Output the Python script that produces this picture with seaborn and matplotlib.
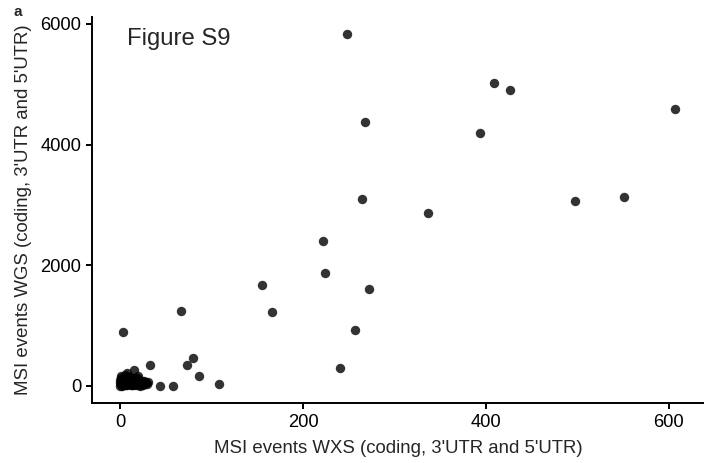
import numpy as np
import pandas as pd
import matplotlib
matplotlib.use("Agg")
import matplotlib.pyplot as plt
import seaborn as sns

# MSI events: WXS (x) vs WGS (y)
wxs_high = [248, 409, 426, 607, 394, 268, 337, 497, 551, 265, 222, 224, 155, 166, 272,
            257, 240, 67, 33, 80, 73, 86, 108, 44, 58, 3]
wgs_high = [5832, 5020, 4909, 4589, 4184, 4366, 2864, 3068, 3123, 3090, 2400, 1870, 1675, 1216, 1600,
            930, 300, 1244, 343, 464, 348, 160, 22, 0, 0, 895]

wxs_low = [15, 8, 1, 0, 1, 2, 3, 4, 5, 6, 7, 8, 9, 10, 11, 12, 13, 14, 16, 18, 20, 22, 24, 26, 28, 30,
           0, 1, 2, 3, 5, 6, 8, 10, 12, 14, 15, 17, 19, 21, 23, 25, 27, 29,
           0, 2, 4, 6, 9, 11, 13, 16, 18, 20, 22, 25, 3, 7, 12, 17, 21, 5, 10, 14, 19, 24, 1, 4, 9]
wgs_low = [265, 215, 166, 0, 20, 40, 10, 60, 30, 80, 15, 50, 100, 25, 70, 120, 40, 90, 60, 30, 110, 50, 20, 80, 40, 60,
           90, 130, 70, 110, 150, 5, 140, 45, 10, 130, 75, 5, 45, 85, 30, 10, 65, 20,
           50, 0, 120, 95, 70, 150, 10, 100, 20, 160, 0, 35, 35, 105, 85, 55, 15, 170, 140, 5, 125, 70, 60, 80, 45]

df = pd.DataFrame({"WXS": wxs_high + wxs_low, "WGS": wgs_high + wgs_low})

sns.set_style("ticks")
plt.rcParams['font.family'] = ['Liberation Sans', 'DejaVu Sans']

fig = plt.figure(figsize=(7.04, 4.63), dpi=100)
ax = fig.add_axes([0.1311, 0.129, 0.8689, 0.835])

sns.scatterplot(data=df, x="WXS", y="WGS", ax=ax, color="black", alpha=0.8,
                s=46, linewidth=0, legend=False)

ax.set_xlim(-30.4, 638.4)
ax.set_ylim(-291.5, 6121)
ax.set_xticks([0, 200, 400, 600])
ax.set_yticks([0, 2000, 4000, 6000])
ax.tick_params(axis='both', labelsize=13.2, length=4, width=1.4, color='black', labelcolor='black', pad=4)
for side in ['top', 'right']:
    ax.spines[side].set_visible(False)
for side in ['left', 'bottom']:
    ax.spines[side].set_linewidth(1.4)
    ax.spines[side].set_color('black')

ax.set_xlabel("MSI events WXS (coding, 3'UTR and 5'UTR)", fontsize=13.4, labelpad=6)
ax.set_ylabel("MSI events WGS (coding, 3'UTR and 5'UTR)", fontsize=13.4, labelpad=6)

ax.text(0.057, 0.942, "Figure S9", transform=ax.transAxes, fontsize=17.2, va='center', ha='left')
fig.text(13 / 704, 1 - 12.5 / 463, "a", fontsize=11, fontweight='bold', ha='left', va='center')

fig.savefig("out.png", dpi=100)
